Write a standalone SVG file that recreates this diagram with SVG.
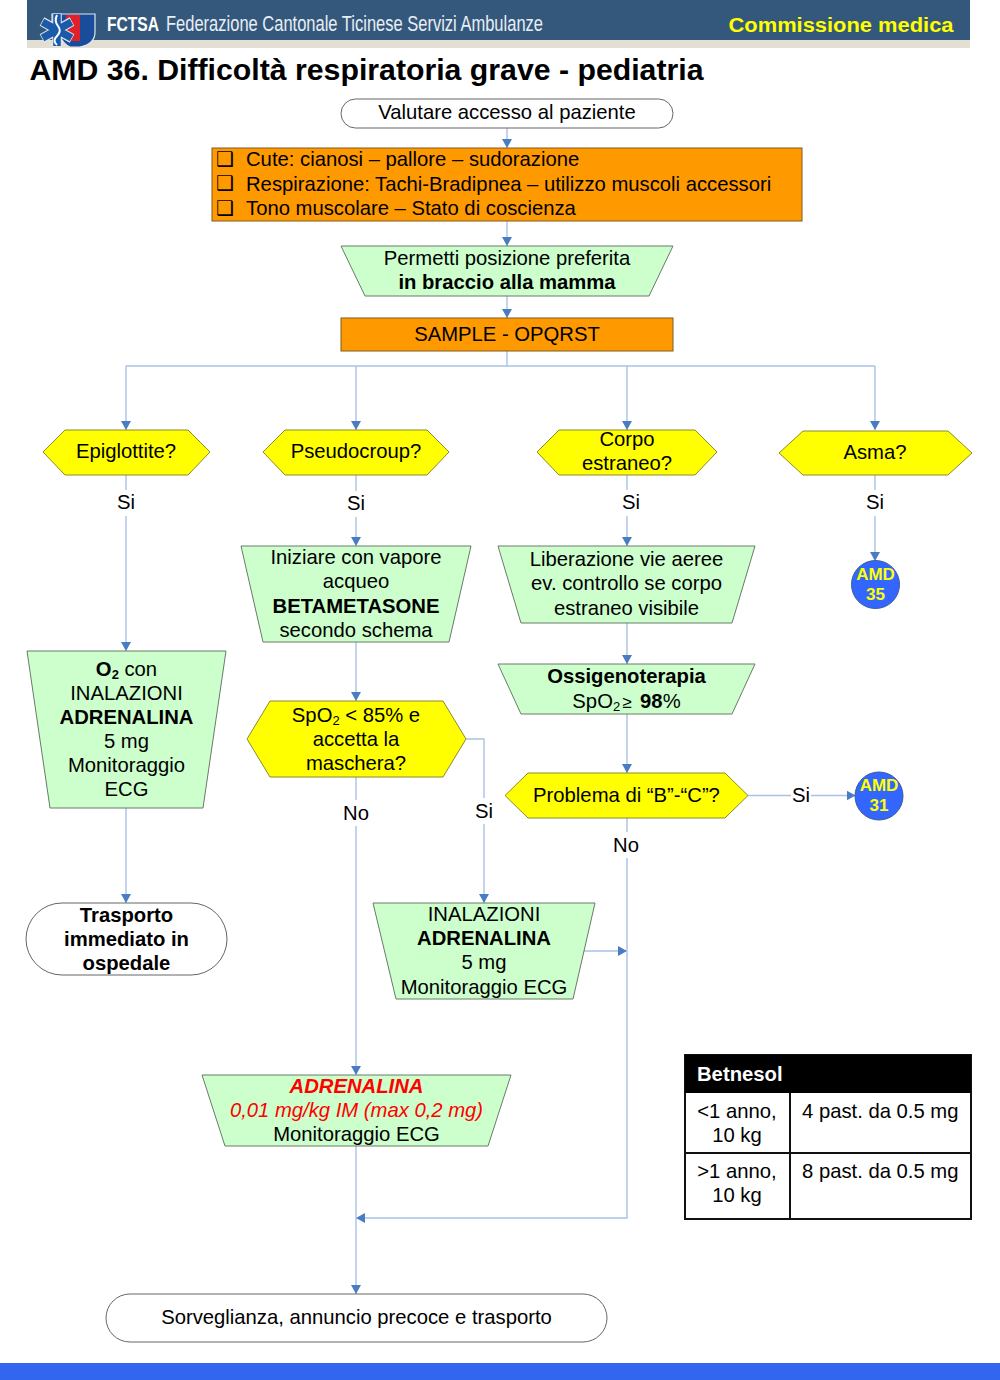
<svg xmlns="http://www.w3.org/2000/svg" width="1000" height="1380" viewBox="0 0 1000 1380">
<style>
text{font-family:"Liberation Sans",Arial,sans-serif;font-size:20.25px;fill:#000;text-anchor:middle}
.b{font-weight:bold}
.l{text-anchor:start}
.n{fill:#fff;stroke:#666;stroke-width:1}
.o{fill:#ff9900;stroke:#7f5a20;stroke-width:1}
.g{fill:#ccffcc;stroke:#6a7a6a;stroke-width:1}
.y{fill:#ffff00;stroke:#8a8a30;stroke-width:1}
.c{fill:#3366ff;stroke:#3a5a9a;stroke-width:1}
.cl{fill:none;stroke:#a9c2e6;stroke-width:1.4}
.a{fill:#4a7cc4}
.w{fill:#fff}
.amd{font-weight:bold;fill:#ffff00;font-size:17px}
.bull{font-family:"DejaVu Sans",sans-serif;font-size:20px;font-weight:bold;text-anchor:start}
</style>
<defs>
<marker id="ah" viewBox="0 0 10 10" refX="10" refY="5" markerWidth="9" markerHeight="10" markerUnits="userSpaceOnUse" orient="auto" preserveAspectRatio="none"><path d="M0,0L10,5L0,10Z" class="a"/></marker>
</defs>
<g id="header">
<rect x="27" y="0" width="943" height="40" fill="#34587c"/>
<rect x="27" y="40" width="943" height="8" fill="#e3dfd3"/>
<path d="M52,14H95V32Q95,44 80,47H70Q63,44 60,36L52,30Z" fill="#1a4c9c" stroke="#dfe6ee" stroke-width="1.200"/>
<rect x="66" y="15" width="14" height="26" fill="#e0202a"/>
<path d="M57,30V13.500M57,30V46.500M57,30L42,21.500M57,30L72,21.500M57,30L42,38.500M57,30L72,38.500" stroke="#dfe6ee" stroke-width="9.500" fill="none"/>
<path d="M57,30V14M57,30V46M57,30L42.500,22M57,30L71.500,22M57,30L42.500,38M57,30L71.500,38" stroke="#1a5aa8" stroke-width="7.500" fill="none"/>
<path d="M57,15Q54,21 58,26T57,36T57,45" stroke="#fff" stroke-width="2" fill="none"/>
<text class="l b" transform="translate(107,31) scale(1,1.350)" textLength="52" lengthAdjust="spacingAndGlyphs" style="fill:#fff;font-size:15px">FCTSA</text>
<text class="l" transform="translate(166,31) scale(1,1.350)" textLength="377" lengthAdjust="spacingAndGlyphs" style="fill:#e8eef4;font-size:16px">Federazione Cantonale Ticinese Servizi Ambulanze</text>
<text x="841" y="32" class="b" textLength="225" lengthAdjust="spacingAndGlyphs" style="fill:#ffff00;font-size:20px">Commissione medica</text>
<text x="29.500" y="79.500" class="l b" textLength="674" lengthAdjust="spacingAndGlyphs" style="font-size:30px">AMD 36. Difficoltà respiratoria grave - pediatria</text>
<rect x="0" y="1363" width="1000" height="17" fill="#3366ee"/>
</g>
<g id="connectors">
<path class="cl" d="M507,128V148" marker-end="url(#ah)"/>
<path class="cl" d="M507,221V246" marker-end="url(#ah)"/>
<path class="cl" d="M507,296V318" marker-end="url(#ah)"/>
<path class="cl" d="M507,351V366"/>
<path class="cl" d="M126,366H875"/>
<path class="cl" d="M126,366V430" marker-end="url(#ah)"/>
<path class="cl" d="M356,366V430" marker-end="url(#ah)"/>
<path class="cl" d="M627,366V430" marker-end="url(#ah)"/>
<path class="cl" d="M875,366V430" marker-end="url(#ah)"/>
<path class="cl" d="M126,475V651" marker-end="url(#ah)"/>
<path class="cl" d="M356,475V546" marker-end="url(#ah)"/>
<path class="cl" d="M627,475V546" marker-end="url(#ah)"/>
<path class="cl" d="M875,475V561" marker-end="url(#ah)"/>
<path class="cl" d="M126,808V903" marker-end="url(#ah)"/>
<path class="cl" d="M356,642V701" marker-end="url(#ah)"/>
<path class="cl" d="M627,623V664" marker-end="url(#ah)"/>
<path class="cl" d="M627,714V773" marker-end="url(#ah)"/>
<path class="cl" d="M748,795.500H855.500" marker-end="url(#ah)"/>
<path class="cl" d="M466,739H484V903" marker-end="url(#ah)"/>
<path class="cl" d="M356,777V1075" marker-end="url(#ah)"/>
<path class="cl" d="M584,951H627" marker-end="url(#ah)"/>
<path class="cl" d="M627,818V1218H356" marker-end="url(#ah)"/>
<path class="cl" d="M356,1146V1294" marker-end="url(#ah)"/>
<rect class="w" x="112" y="490" width="28" height="26"/><text x="126" y="509">Si</text>
<rect class="w" x="342" y="491" width="28" height="26"/><text x="356" y="510">Si</text>
<rect class="w" x="613" y="490" width="36" height="26"/><text x="631" y="509">Si</text>
<rect class="w" x="861" y="490" width="28" height="26"/><text x="875" y="509">Si</text>
<rect class="w" x="340" y="800" width="32" height="26"/><text x="356" y="820">No</text>
<rect class="w" x="470" y="798" width="28" height="26"/><text x="484" y="818">Si</text>
<rect class="w" x="610" y="832" width="32" height="26"/><text x="626" y="852">No</text>
<rect class="w" x="791" y="783" width="20" height="24"/><text x="801" y="802">Si</text>
</g>
<g id="start"><rect class="n" x="341" y="99" width="332" height="29" rx="14.5"/><text x="507" y="119">Valutare accesso al paziente</text></g>
<g id="check"><rect class="o" x="212" y="148" width="590" height="73"/>
<text class="bull" x="216" y="166">❑</text><text class="bull" x="216" y="190">❑</text><text class="bull" x="216" y="215">❑</text>
<text class="l" x="246" y="166">Cute: cianosi – pallore – sudorazione</text>
<text class="l" x="246" y="191">Respirazione: Tachi-Bradipnea – utilizzo muscoli accessori</text>
<text class="l" x="246" y="215">Tono muscolare – Stato di coscienza</text></g>
<g id="posizione"><path class="g" d="M341,246H673L649,296H365Z"/><text x="507" y="265">Permetti posizione preferita</text><text class="b" x="507" y="289">in braccio alla mamma</text></g>
<g id="sample"><rect class="o" x="341" y="318" width="332" height="33"/><text x="507" y="341">SAMPLE - OPQRST</text></g>
<g id="epiglottite"><path class="y" d="M43,452L65,430H188L210,452L188,475H65Z"/><text x="126" y="458">Epiglottite?</text></g>
<g id="pseudocroup"><path class="y" d="M263,452L285,430H427L449,452L427,475H285Z"/><text x="356" y="458">Pseudocroup?</text></g>
<g id="corpo"><path class="y" d="M537,452L559,430H695L717,452L695,475H559Z"/><text x="627" y="446">Corpo</text><text x="627" y="470">estraneo?</text></g>
<g id="asma"><path class="y" d="M779,453L803,431H948L972,453L948,475H803Z"/><text x="875" y="459">Asma?</text></g>
<g id="amd35"><circle class="c" cx="875.500" cy="584.500" r="24"/><text class="amd" x="875.500" y="580">AMD</text><text class="amd" x="875.500" y="600">35</text></g>
<g id="iniziare"><path class="g" d="M241,546H471L449,642H263Z"/><text x="356" y="564">Iniziare con vapore</text><text x="356" y="588">acqueo</text><text class="b" x="356" y="613">BETAMETASONE</text><text x="356" y="637">secondo schema</text></g>
<g id="liberazione"><path class="g" d="M498,546H755L732,623H521Z"/><text x="626.500" y="566">Liberazione vie aeree</text><text x="626.500" y="590">ev. controllo se corpo</text><text x="626.500" y="615">estraneo visibile</text></g>
<g id="ossigeno"><path class="g" d="M498,664H755L732,714H521Z"/><text class="b" x="626.500" y="683">Ossigenoterapia</text><text x="626.500" y="708">SpO<tspan font-size="13" dy="3">2</tspan><tspan dy="-3" dx="2" font-size="17">≥</tspan><tspan class="b" dx="3"> 98</tspan>%</text></g>
<g id="o2"><path class="g" d="M27,651H226L203,808H50Z"/><text x="126.500" y="676"><tspan class="b">O</tspan><tspan class="b" font-size="13" dy="3">2</tspan><tspan dy="-3"> con</tspan></text><text x="126.500" y="700">INALAZIONI</text><text class="b" x="126.500" y="724">ADRENALINA</text><text x="126.500" y="748">5 mg</text><text x="126.500" y="772">Monitoraggio</text><text x="126.500" y="796">ECG</text></g>
<g id="trasporto"><rect class="n" x="26" y="903" width="201" height="72" rx="36"/><text class="b" x="126.500" y="922">Trasporto</text><text class="b" x="126.500" y="946">immediato in</text><text class="b" x="126.500" y="970">ospedale</text></g>
<g id="spo2"><path class="y" d="M247,739L270,701H443L466,739L443,777H270Z"/><text x="356" y="722">SpO<tspan font-size="13" dy="3">2</tspan><tspan dy="-3"> &lt; 85% e</tspan></text><text x="356" y="746">accetta la</text><text x="356" y="770">maschera?</text></g>
<g id="problema"><path class="y" d="M505,795.500L528,773H725L748,795.500L725,818H528Z"/><text x="626.500" y="802">Problema di “B”-“C”?</text></g>
<g id="amd31"><circle class="c" cx="879" cy="796" r="24"/><text class="amd" x="879" y="791">AMD</text><text class="amd" x="879" y="811">31</text></g>
<g id="inalazioni"><path class="g" d="M373,903H595L573,999H396Z"/><text x="484" y="921">INALAZIONI</text><text class="b" x="484" y="945">ADRENALINA</text><text x="484" y="969">5 mg</text><text x="484" y="994">Monitoraggio ECG</text></g>
<g id="adrenalina"><path class="g" d="M202,1075H511L488,1146H225Z"/><text x="356.500" y="1093" style="fill:#ff0000;font-weight:bold;font-style:italic">ADRENALINA</text><text x="356.500" y="1117" style="fill:#ff0000;font-style:italic">0,01 mg/kg IM (max 0,2 mg)</text><text x="356.500" y="1141">Monitoraggio ECG</text></g>
<g id="sorveglianza"><rect class="n" x="106" y="1294" width="501" height="48" rx="24"/><text x="356.500" y="1324">Sorveglianza, annuncio precoce e trasporto</text></g>
<g id="betnesol">
<rect x="685" y="1055" width="286" height="164" fill="#fff" stroke="#111" stroke-width="2"/>
<rect x="685" y="1055" width="286" height="38" fill="#000"/>
<path d="M790,1093V1219M685,1153H971" stroke="#111" stroke-width="2" fill="none"/>
<text class="l b" x="697" y="1081" style="fill:#fff">Betnesol</text>
<text x="737" y="1118">&lt;1 anno,</text><text x="737" y="1142">10 kg</text>
<text class="l" x="802" y="1118">4 past. da 0.5 mg</text>
<text x="737" y="1178">&gt;1 anno,</text><text x="737" y="1202">10 kg</text>
<text class="l" x="802" y="1178">8 past. da 0.5 mg</text>
</g>
</svg>
